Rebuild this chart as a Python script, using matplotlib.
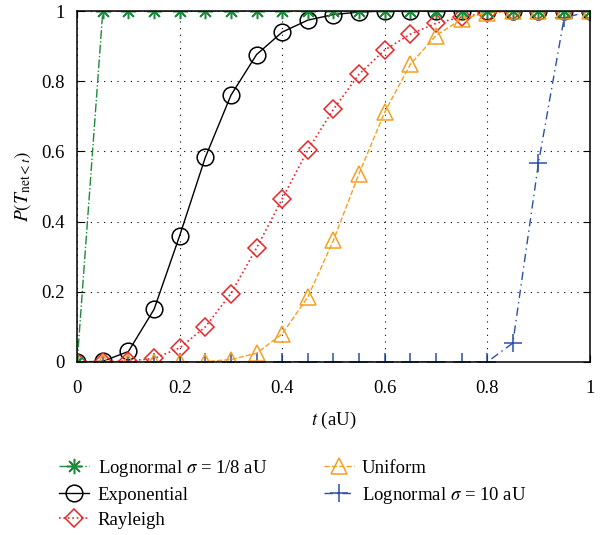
import matplotlib.pyplot as plt

plt.rcParams.update({
    "font.family": "Liberation Serif",
    "mathtext.fontset": "stix",
    "font.size": 13.5,
})

t = [0.0, 0.05, 0.1, 0.15, 0.2, 0.25, 0.3, 0.35, 0.4, 0.45, 0.5,
     0.55, 0.6, 0.65, 0.7, 0.75, 0.8, 0.85, 0.9, 0.95, 1.0]
logn_small = [0.0, 1, 1, 1, 1, 1, 1, 1, 1, 1, 1,
              1, 1, 1, 1, 1, 1, 1, 1, 1, 1]
expo = [0.0, 0.002, 0.03, 0.15, 0.36, 0.583, 0.76, 0.876, 0.94, 0.974, 0.99,
        0.997, 1, 1, 1, 1, 1, 1, 1, 1, 1]
rayleigh = [0.0, 0.0, 0.003, 0.01, 0.04, 0.1, 0.195, 0.325, 0.465, 0.604, 0.72,
            0.82, 0.889, 0.934, 0.965, 0.983, 0.995, 1, 1, 1, 1]
uniform = [0.0, 0.0, 0.0, 0.0, 0.0, 0.001, 0.007, 0.025, 0.08, 0.185, 0.347,
           0.537, 0.712, 0.848, 0.93, 0.977, 0.995, 1, 1, 1, 1]
logn_large = [0.0, 0, 0, 0, 0, 0, 0, 0, 0, 0, 0,
              0, 0, 0, 0, 0, 0, 0.054, 0.567, 0.98, 1]

ticks = [0, 0.2, 0.4, 0.6, 0.8, 1]
tick_labels = ["0", "0.2", "0.4", "0.6", "0.8", "1"]

fig = plt.figure(figsize=(6.03, 5.35), dpi=100)
ax = fig.add_axes([0.128, 0.3234, 0.850, 0.656])

h_logn_s, = ax.plot(t, logn_small, color="#1f8a3c", ls="-.", lw=1,
                    marker=(8, 2, 0), ms=11, mew=1.1,
                    label=r"Lognormal $\sigma$ = 1/8 aU", zorder=6)
h_exp, = ax.plot(t, expo, color="black", ls="-", lw=1,
                 marker="o", ms=12, mfc="none", mew=1.1,
                 label="Exponential", zorder=3)
h_ray, = ax.plot(t, rayleigh, color="#e8262a", ls=":", lw=1.2,
                 marker="D", ms=9, mfc="none", mew=1.1,
                 label="Rayleigh", zorder=4)
h_uni, = ax.plot(t, uniform, color="#f5a020", ls="--", lw=1,
                 marker="^", ms=12, mfc="none", mew=1.1,
                 label="Uniform", zorder=5)
h_logn_l, = ax.plot(t, logn_large, color="#2b4ea8", ls=(0, (6, 3, 1, 3)), lw=1,
                    marker="+", ms=13, mew=1.1,
                    label=r"Lognormal $\sigma$ = 10 aU", zorder=4)

ax.set_xlim(0, 1)
ax.set_ylim(0, 1)
ax.set_xticks(ticks)
ax.set_xticklabels(tick_labels)
ax.set_yticks(ticks)
ax.set_yticklabels(tick_labels)
ax.tick_params(axis="both", direction="in", top=True, right=True, length=5,
               labelsize=13.5)
ax.tick_params(axis="x", pad=13)
ax.tick_params(axis="y", pad=9)
ax.grid(True, color="black", ls=(0, (1, 5)), lw=0.8)
for s in ax.spines.values():
    s.set_linewidth(1.1)
    s.set_zorder(7)

ax.set_xlabel(r"$t$ (aU)", fontsize=13.5, labelpad=9)
ax.set_ylabel(r"$P(T_{\mathrm{net}<t})$", fontsize=14, labelpad=6)

fig.legend(handles=[h_logn_s, h_exp, h_ray, h_uni, h_logn_l],
           loc="upper left", bbox_to_anchor=(0.086, 0.158),
           ncol=2, frameon=False, fontsize=13.5, handlelength=1.6,
           handletextpad=0.45, columnspacing=3.0, labelspacing=0.42,
           borderaxespad=0)

fig.savefig("out.png", dpi=100)
